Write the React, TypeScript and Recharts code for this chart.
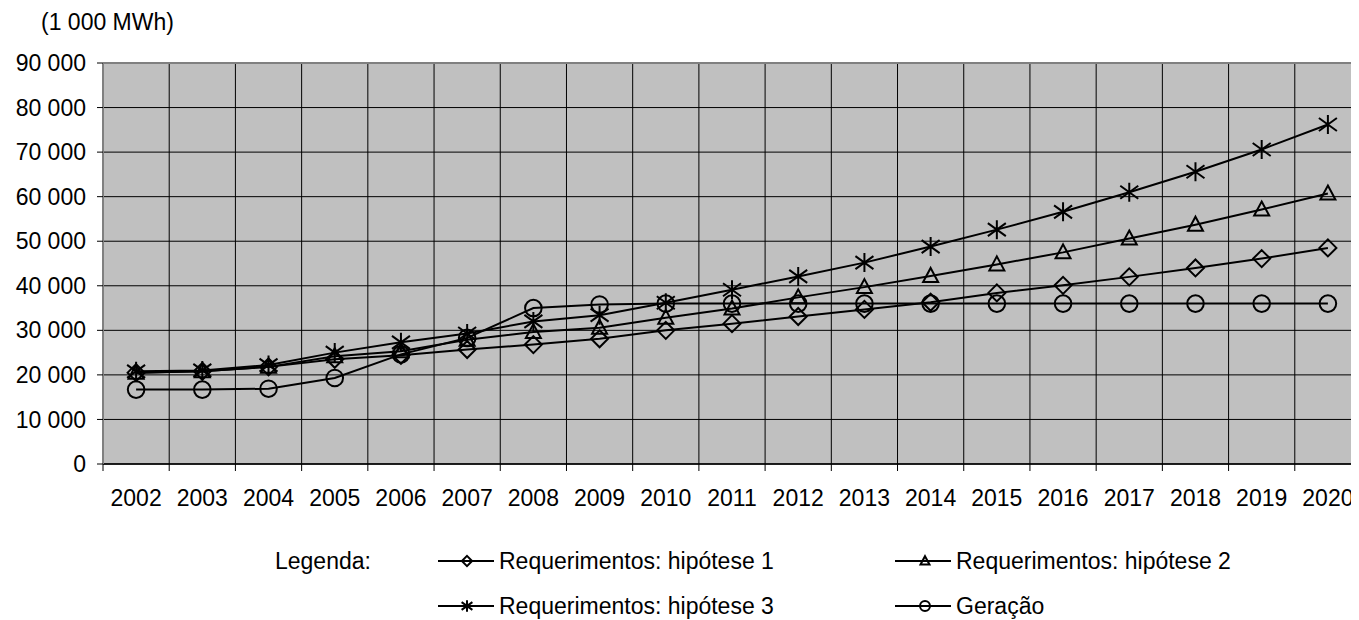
import React from "react";
import {
  LineChart,
  Line,
  XAxis,
  YAxis,
  CartesianGrid,
  ReferenceLine,
} from "recharts";

const years = [
  "2002", "2003", "2004", "2005", "2006", "2007", "2008", "2009", "2010", "2011",
  "2012", "2013", "2014", "2015", "2016", "2017", "2018", "2019", "2020",
];
const hip1 = [
  20500, 20800, 21800, 23500, 24400, 25700, 26800, 28100, 30000, 31500,
  33100, 34700, 36300, 38400, 40100, 42000, 44000, 46100, 48500,
];
const hip2 = [
  20500, 20800, 21800, 24200, 25300, 27900, 29600, 30600, 32800, 34900,
  37400, 39700, 42200, 44800, 47500, 50600, 53700, 57100, 60700,
];
const hip3 = [
  20800, 21000, 22200, 25000, 27300, 29300, 32000, 33400, 36200, 39100,
  42100, 45200, 48800, 52600, 56600, 61000, 65600, 70600, 76200,
];
const geracao = [
  16700, 16700, 16900, 19300, 24600, 28300, 35000, 35800, 36000, 36000,
  36000, 36000, 36000, 36000, 36000, 36000, 36000, 36000, 36000,
];
const yTicks = [0, 10000, 20000, 30000, 40000, 50000, 60000, 70000, 80000, 90000];

const data = years.map((year, i) => ({
  year,
  hip1: hip1[i],
  hip2: hip2[i],
  hip3: hip3[i],
  geracao: geracao[i],
}));

const FONT = "'Liberation Sans', Arial, sans-serif";
const CHART_W = 1360;
const CHART_H = 612;
const MARGIN = { top: 55, right: 7, left: 0, bottom: 0 };
const Y_W = 95;
const PLOT_W = CHART_W - MARGIN.left - MARGIN.right - Y_W;
const BAND = PLOT_W / years.length;

const fmt = (v: number) => String(v).replace(/\B(?=(\d{3})+(?!\d))/g, " ");

type MarkerKind = "diamond" | "triangle" | "star" | "circle";

const Marker = ({ kind, cx, cy, s = 1 }: { kind: MarkerKind; cx: number; cy: number; s?: number }) => {
  const p = { fill: "none", stroke: "#000", strokeWidth: 2 };
  if (kind === "diamond") {
    const r = 8.5 * s;
    return <path d={`M${cx},${cy - r}L${cx + r},${cy}L${cx},${cy + r}L${cx - r},${cy}Z`} {...p} />;
  }
  if (kind === "triangle") {
    const w = 7.5 * s;
    return <path d={`M${cx},${cy - 8 * s}L${cx + w},${cy + 6 * s}L${cx - w},${cy + 6 * s}Z`} {...p} />;
  }
  if (kind === "star") {
    const r = 9.5 * s;
    const dx = 9 * s;
    const dy = 6.5 * s;
    return (
      <path
        d={`M${cx},${cy - r}L${cx},${cy + r}M${cx - dx},${cy - dy}L${cx + dx},${cy + dy}M${cx - dx},${cy + dy}L${cx + dx},${cy - dy}`}
        {...p}
      />
    );
  }
  return <circle cx={cx} cy={cy} r={8.3 * s} {...p} />;
};

const dotFor = (kind: MarkerKind) => (props: any) => {
  const { cx, cy, index } = props;
  if (cx == null || cy == null) return <g key={`${kind}-${index}`} />;
  return (
    <g key={`${kind}-${index}`}>
      <Marker kind={kind} cx={cx} cy={cy} />
    </g>
  );
};

const XTick = (props: any) => {
  const { x, y, payload } = props;
  const left = x - BAND / 2;
  return (
    <g>
      <line x1={left} y1={y} x2={left} y2={y + 7} stroke="#000" strokeWidth={1} />
      <text x={x} y={y + 42} textAnchor="middle" fontSize={23} fontFamily={FONT} fill="#000">
        {payload.value}
      </text>
    </g>
  );
};

// legend rows, positions relative to the wrapper
const legendItems: { kind: MarkerKind; label: string; left: number; top: number; mx: number }[] = [
  { kind: "diamond", label: "Requerimentos: hipótese 1", left: 430, top: 538, mx: 29 },
  { kind: "triangle", label: "Requerimentos: hipótese 2", left: 887, top: 538, mx: 30 },
  { kind: "star", label: "Requerimentos: hipótese 3", left: 430, top: 583, mx: 29 },
  { kind: "circle", label: "Geração", left: 887, top: 583, mx: 30 },
];

export default function App() {
  return (
    <div style={{ position: "relative", width: 1351, height: CHART_H, overflow: "hidden", fontFamily: FONT }}>
      <div style={{ position: "absolute", left: 33, top: 0, fontSize: 23, lineHeight: "28px", color: "#000" }}>
        (1 000 MWh)
      </div>
      <LineChart width={CHART_W} height={CHART_H} data={data} margin={MARGIN}>
        <CartesianGrid
          fill="#c0c0c0"
          stroke="#000"
          verticalCoordinatesGenerator={({ offset }: any) =>
            years.map((_, i) => offset.left + (i * offset.width) / years.length)
          }
        />
        <XAxis
          dataKey="year"
          scale="band"
          axisLine={{ stroke: "#000", strokeWidth: 1.5 }}
          tickLine={false}
          tickSize={0}
          tickMargin={0}
          interval={0}
          height={CHART_H - MARGIN.top - 401}
          tick={<XTick />}
        />
        <YAxis
          domain={[0, 90000]}
          ticks={yTicks}
          width={Y_W}
          interval={0}
          tickFormatter={fmt}
          axisLine={{ stroke: "#808080", strokeWidth: 2 }}
          tickLine={{ stroke: "#000" }}
          tickSize={6}
          tickMargin={11}
          tick={{ fill: "#000", fontSize: 23, fontFamily: FONT }}
        />
        <ReferenceLine y={90000} stroke="#808080" strokeWidth={2} />
        <Line dataKey="geracao" stroke="#000" strokeWidth={2} dot={dotFor("circle")} isAnimationActive={false} />
        <Line dataKey="hip1" stroke="#000" strokeWidth={2} dot={dotFor("diamond")} isAnimationActive={false} />
        <Line dataKey="hip2" stroke="#000" strokeWidth={2} dot={dotFor("triangle")} isAnimationActive={false} />
        <Line dataKey="hip3" stroke="#000" strokeWidth={2} dot={dotFor("star")} isAnimationActive={false} />
      </LineChart>
      <div style={{ position: "absolute", left: 267, top: 538, fontSize: 23, lineHeight: "30px" }}>Legenda:</div>
      {legendItems.map((it) => (
        <div
          key={it.label}
          style={{ position: "absolute", left: it.left, top: it.top, display: "flex", alignItems: "center", height: 30 }}
        >
          <svg width={56} height={30} style={{ marginRight: 5 }}>
            <line x1={0} y1={15} x2={56} y2={15} stroke="#000" strokeWidth={2} />
            <Marker kind={it.kind} cx={it.mx} cy={15} s={0.6} />
          </svg>
          <span style={{ fontSize: 23, lineHeight: "30px" }}>{it.label}</span>
        </div>
      ))}
    </div>
  );
}
